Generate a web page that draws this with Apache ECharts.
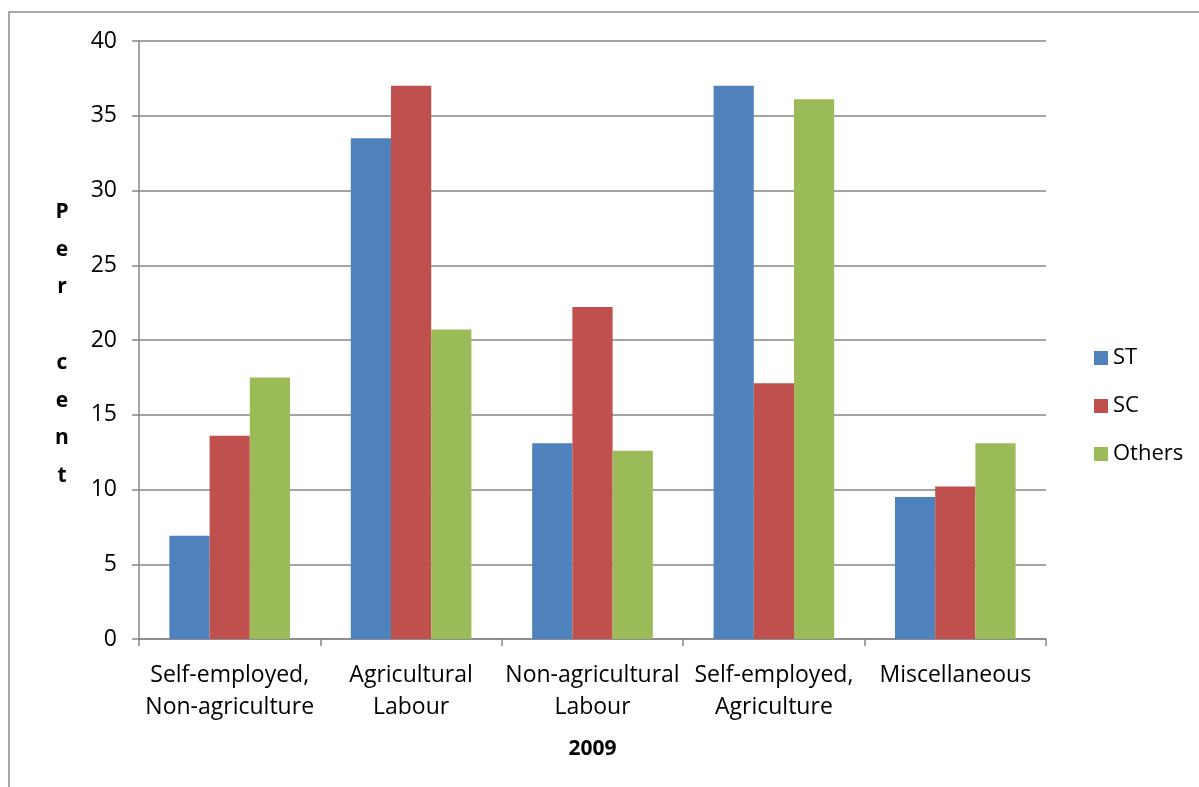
<!DOCTYPE html>
<html>
<head>
<meta charset="utf-8">
<script src="https://cdn.jsdelivr.net/npm/echarts@6/dist/echarts.min.js"></script>
<style>
  html, body { margin: 0; padding: 0; background: #ffffff; }
  #chart { width: 1199px; height: 787px; }
</style>
</head>
<body>
<div id="chart"></div>
<script>
// Occupation categories (2009) and share of households per social group, in percent
const categories = [
  'Self-employed,\nNon-agriculture',
  'Agricultural\nLabour',
  'Non-agricultural\nLabour',
  'Self-employed,\nAgriculture',
  'Miscellaneous'
];
const stValues = [6.9, 33.5, 13.1, 37.0, 9.5];
const scValues = [13.6, 37.0, 22.2, 17.1, 10.2];
const othersValues = [17.5, 20.7, 12.6, 36.1, 13.1];
const seriesNames = ['ST', 'SC', 'Others'];
const yTicks = { min: 0, max: 40, interval: 5 };
const yTitle = 'P\ne\nr\n \nc\ne\nn\nt';

const font = "'Open Sans', 'Noto Sans', sans-serif";
const axisGrey = '#868686';

const chart = echarts.init(document.getElementById('chart'), null, { renderer: 'canvas' });

const seriesColors = ['#4f81bd', '#c0504d', '#9bbb59'];
const seriesData = [stValues, scValues, othersValues];

chart.setOption({
  animation: false,
  backgroundColor: '#ffffff',
  textStyle: { fontFamily: font },
  graphic: [{
    // chart-area frame
    type: 'rect',
    shape: { x: 9, y: 12, width: 1300, height: 900 },
    style: { fill: 'none', stroke: '#8c8c8c', lineWidth: 1.5 },
    silent: true
  }, {
    // stacked vertical axis title
    type: 'text',
    x: 62,
    y: 344,
    style: {
      text: yTitle,
      fontFamily: font, fontSize: 21, fontWeight: 'bold', fill: '#000000',
      lineHeight: 37.7, align: 'center', verticalAlign: 'middle'
    },
    silent: true
  }],
  grid: { left: 139, top: 41, right: 153, bottom: 148, containLabel: false },
  legend: {
    orient: 'vertical',
    left: 1089,
    top: 341,
    itemWidth: 14,
    itemHeight: 14,
    itemGap: 24,
    icon: 'rect',
    data: seriesNames,
    textStyle: { fontFamily: font, fontSize: 22, lineHeight: 24, color: '#000000', padding: [0, 0, 0, 0] }
  },
  xAxis: {
    type: 'category',
    data: categories,
    name: '2009',
    nameLocation: 'middle',
    nameGap: 100,
    nameTextStyle: { fontFamily: font, fontSize: 21, fontWeight: 'bold', color: '#000000' },
    axisLine: { lineStyle: { color: axisGrey, width: 1.5 } },
    axisTick: { show: true, length: 7, alignWithLabel: false, lineStyle: { color: axisGrey, width: 1.5 } },
    axisLabel: {
      fontFamily: font, fontSize: 23, color: '#000000', margin: 20,
      lineHeight: 32, interval: 0
    },
    splitLine: { show: false }
  },
  yAxis: {
    type: 'value',
    min: yTicks.min,
    max: yTicks.max,
    interval: yTicks.interval,
    axisLine: { show: true, lineStyle: { color: axisGrey, width: 1.5 } },
    axisTick: { show: true, length: 7, lineStyle: { color: axisGrey, width: 1.5 } },
    axisLabel: { fontFamily: font, fontSize: 23, color: '#000000', margin: 22 },
    splitLine: { show: true, lineStyle: { color: axisGrey, width: 1.5 } }
  },
  series: seriesNames.map((name, i) => ({
    name: name,
    type: 'bar',
    data: seriesData[i],
    barGap: '0%',
    barCategoryGap: '33.5%',
    itemStyle: { color: seriesColors[i] }
  }))
});
</script>
</body>
</html>
